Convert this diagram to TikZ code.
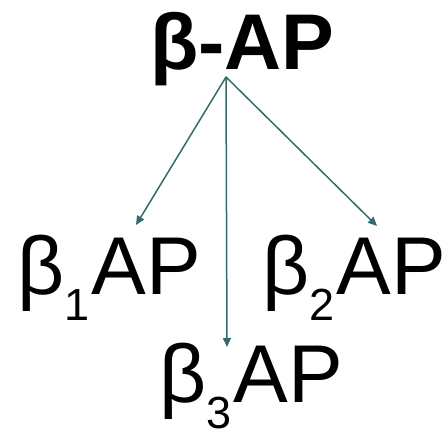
\documentclass[tikz,border=0pt]{standalone}
\usepackage{fontspec}
\setmainfont{Liberation Sans}
\usetikzlibrary{arrows.meta, positioning}

\newcommand{\subidx}[1]{\raisebox{-26pt}[\height][0pt]{\fontsize{45}{45}\selectfont #1}\kern2pt}

\definecolor{tealline}{RGB}{51,107,107}

\begin{document}
\begin{tikzpicture}[
      x=1pt, y=1pt,
      label/.style={
        inner sep=0pt, anchor=base west,
        font=\fontsize{82}{82}\selectfont
      },
      head/.style={label, font=\fontsize{79}{79}\selectfont\bfseries},
      arrow/.style={-{Triangle[length=9pt, width=8pt]}, line width=1.5pt,
        draw=tealline, fill=tealline}
    ]
    \useasboundingbox (0,0) rectangle (448,436);
    \node[head] (ap) at (150,366) {β-AP};
    \node[label] (b1) at (17,141) {β\subidx{1}AP};
    \node[label] (b2) at (262,141) {β\subidx{2}AP};
    \node[label] (b3) at (159,33) {β\subidx{3}AP};
    \coordinate (hub) at (226,359);
    \coordinate (b1in) at (136,211);
    \coordinate (b2in) at (377,210);
    \coordinate (b3in) at (227,89);
    \draw[arrow] (hub) -- (b1in);
    \draw[arrow] (hub) -- (b2in);
    \draw[arrow] (hub) -- (b3in);
  \end{tikzpicture}
\end{document}
